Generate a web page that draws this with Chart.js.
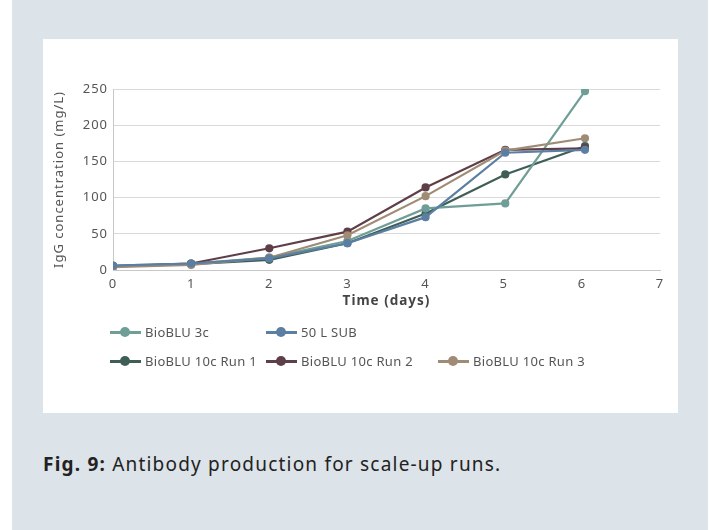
<!DOCTYPE html>
<html>
<head>
<meta charset="utf-8">
<script src="https://cdn.jsdelivr.net/npm/chart.js@4.4.1/dist/chart.umd.min.js"></script>
<style>
html,body{margin:0;padding:0;background:#fff;}
body{width:715px;height:530px;position:relative;overflow:hidden;font-family:"Noto Sans",sans-serif;}
#bg{position:absolute;left:12px;top:0;width:696px;height:530px;background:#dce3e9;}
#panel{position:absolute;left:43px;top:39px;width:635px;height:374px;background:#fff;}
#wrap{position:absolute;left:0;top:0;width:635px;height:271px;}
#legend{position:absolute;left:0;top:0;width:635px;height:374px;}
.lg-item{position:absolute;display:flex;align-items:center;font-size:13px;color:#555;letter-spacing:0.3px;white-space:nowrap;transform:translateY(-50%);}
.lg-sym{position:relative;width:31px;height:10px;margin-right:4px;}
.lg-sym .ln{position:absolute;left:0;right:0;top:4px;height:3px;}
.lg-sym .dt{position:absolute;left:10px;top:0;width:10px;height:10px;border-radius:50%;}
#caption{position:absolute;left:43px;top:451px;font-size:19px;color:#222;letter-spacing:1.2px;}
</style>
</head>
<body>
<div id="bg"></div>
<div id="panel">
  <div id="wrap"><canvas id="igg"></canvas></div>
  <div id="legend"></div>
</div>
<div id="caption"><b>Fig. 9:</b> Antibody production for scale-up runs.</div>
<script>
// sampling time (days) and IgG values (mg/L)
const days=[0,1,2,3,4,5.02,6.04];
const bioblu3c=[6,9,17,40,85,92,247];
const sub50=[6,9,16,37,73,162,166];
const run1=[5,8,14,37,78,132,171];
const run2=[5,9,30,53,114,166,168];
const run3=[4,7,17,48,102,165,182];
const seriesNames=['BioBLU 3c','50 L SUB','BioBLU 10c Run 1','BioBLU 10c Run 2','BioBLU 10c Run 3'];
const seriesColors=['#6f9e97','#5b7fa3','#3f5e56','#5e3f47','#a08b74'];
const yTicks=[0,50,100,150,200,250];
const xTicks=[0,1,2,3,4,5,6,7];

const allVals=[bioblu3c,sub50,run1,run2,run3];
const drawOrder=[3,0,4,2,1]; // lower = drawn on top
const datasets=allVals.map((v,i)=>({
  label:seriesNames[i],
  data:v.map((y,j)=>({x:days[j],y})),
  borderColor:seriesColors[i],backgroundColor:seriesColors[i],
  borderWidth:2.2,pointRadius:3,pointHoverRadius:3,tension:0,order:drawOrder[i]
}));

const spacing={id:'spacing',beforeDraw(c){c.ctx.letterSpacing='1px';}};

new Chart(document.getElementById('igg'),{
  type:'line',
  data:{datasets},
  plugins:[spacing],
  options:{
    responsive:true,maintainAspectRatio:false,animation:false,
    layout:{padding:{left:0,right:18,top:50,bottom:0}},
    plugins:{legend:{display:false},tooltip:{enabled:false}},
    scales:{
      x:{type:'linear',min:0,max:7,
        afterBuildTicks:s=>{s.ticks=xTicks.map(v=>({value:v}));},
        afterFit:s=>{s.height=40;},
        grid:{display:false,drawTicks:false},
        border:{display:true,color:'#c8c8c8',width:1},
        ticks:{color:'#555',font:{family:'Noto Sans',size:13},padding:6},
        title:{display:true,text:'Time (days)',color:'#444',font:{family:'Noto Sans',size:13.5,weight:'bold'},padding:{top:0,bottom:1}}
      },
      y:{min:0,max:250,
        afterBuildTicks:s=>{s.ticks=yTicks.map(v=>({value:v}));},
        afterFit:s=>{s.width=70;},
        grid:{color:'#dadada',lineWidth:1,drawTicks:false},
        border:{display:true,color:'#c8c8c8',width:1},
        ticks:{color:'#555',font:{family:'Noto Sans',size:13},padding:5},
        title:{display:true,text:'IgG concentration (mg/L)',color:'#555',font:{family:'Noto Sans',size:13},padding:{top:8,bottom:0}}
      }
    }
  }
});

// legend rows laid out like the figure
const lgPos=[[67,293],[223,293],[67,322],[223,322],[395,322]];
const lg=document.getElementById('legend');
seriesNames.forEach((n,i)=>{
  const d=document.createElement('div');d.className='lg-item';
  d.style.left=lgPos[i][0]+'px';d.style.top=lgPos[i][1]+'px';
  d.innerHTML=`<span class="lg-sym"><span class="ln" style="background:${seriesColors[i]}"></span><span class="dt" style="background:${seriesColors[i]}"></span></span>${n}`;
  lg.appendChild(d);
});
</script>
</body>
</html>
